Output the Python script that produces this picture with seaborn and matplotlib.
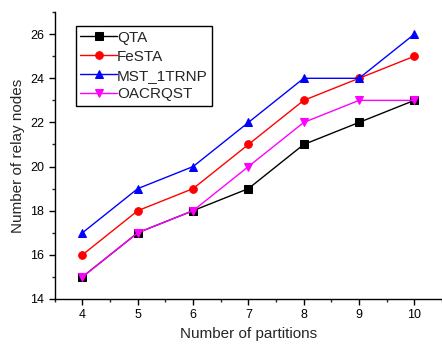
import matplotlib
matplotlib.use("Agg")
import matplotlib.pyplot as plt
import seaborn as sns
import pandas as pd
from matplotlib.ticker import MultipleLocator

partitions = [4, 5, 6, 7, 8, 9, 10]
qta = [15, 17, 18, 19, 21, 22, 23]
festa = [16, 18, 19, 21, 23, 24, 25]
mst = [17, 19, 20, 22, 24, 24, 26]
oacrqst = [15, 17, 18, 20, 22, 23, 23]
names = ["QTA", "FeSTA", "MST_1TRNP", "OACRQST"]

sns.set_style("ticks")
plt.rcParams['font.family'] = ['Liberation Sans', 'DejaVu Sans']

df = pd.DataFrame({"x": partitions * 4,
                   "y": qta + festa + mst + oacrqst,
                   "series": sum([[n] * len(partitions) for n in names], [])})

fig = plt.figure(figsize=(4.42, 3.46), dpi=100)
ax = fig.add_axes([0.124, 0.136, 0.876, 0.829])
palette = {"QTA": "black", "FeSTA": "red", "MST_1TRNP": "blue", "OACRQST": "magenta"}
markers = {"QTA": "s", "FeSTA": "o", "MST_1TRNP": "^", "OACRQST": "v"}
for n in names:
    sub = df[df.series == n]
    sns.lineplot(data=sub, x="x", y="y", ax=ax, color=palette[n], marker=markers[n],
                 markersize=5.5, markeredgecolor=palette[n], linewidth=1, label=n)

ax.set_xlim(3.5, 10.5)
ax.set_ylim(14, 27)
ax.xaxis.set_major_locator(MultipleLocator(1))
ax.xaxis.set_minor_locator(MultipleLocator(0.5))
ax.yaxis.set_major_locator(MultipleLocator(2))
ax.yaxis.set_minor_locator(MultipleLocator(1))
ax.set_yticks([14, 16, 18, 20, 22, 24, 26])
ax.tick_params(which='major', direction='out', length=4, width=1, labelsize=9, colors='black')
ax.tick_params(which='minor', direction='out', length=2.5, width=1)
for s in ['top', 'right']:
    ax.spines[s].set_visible(False)
for s in ['left', 'bottom']:
    ax.spines[s].set_color('black')
    ax.spines[s].set_linewidth(1)
ax.set_xlabel("Number of partitions", fontsize=11)
ax.set_ylabel("Number of relay nodes", fontsize=11)
leg = ax.legend(loc='upper left', bbox_to_anchor=(0.054, 0.951), fontsize=11,
                frameon=True, fancybox=False, edgecolor='black', framealpha=1,
                handlelength=2.4, handletextpad=0.0, borderpad=0.3, labelspacing=0.32,
                borderaxespad=0)
leg.get_frame().set_linewidth(1)
fig.savefig("out.png", dpi=100)
